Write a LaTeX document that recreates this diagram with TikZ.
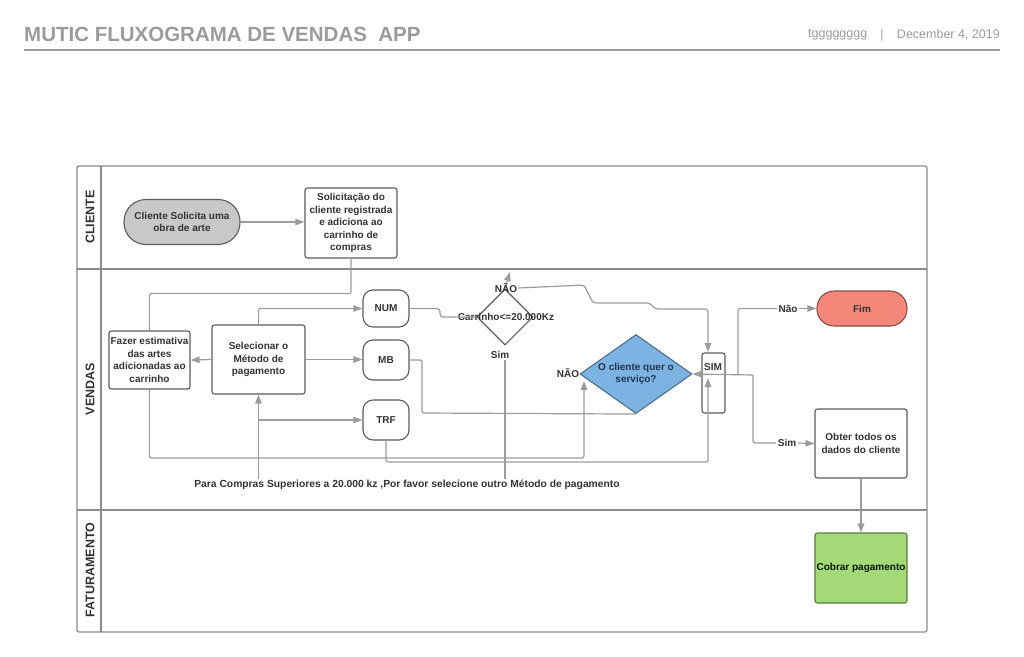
\documentclass[tikz,border=0pt]{standalone}
\usepackage{fontspec}
\setmainfont{Liberation Sans}
\usetikzlibrary{shapes.geometric,arrows.meta}

\definecolor{titlegray}{HTML}{9B9B9B}
\definecolor{poolgray}{HTML}{8A8A8A}
\definecolor{linegray}{HTML}{9C9C9C}
\definecolor{boxline}{HTML}{5C5C5C}
\definecolor{textdark}{HTML}{333333}
\definecolor{startfill}{HTML}{C8C8C8}
\definecolor{fimfill}{HTML}{F4877A}
\definecolor{fimline}{HTML}{8A4E46}
\definecolor{querfill}{HTML}{7DB3E3}
\definecolor{querline}{HTML}{4D6E8E}
\definecolor{quertext}{HTML}{1E3550}
\definecolor{cobrarfill}{HTML}{A3D977}
\definecolor{cobrarline}{HTML}{5E7A4A}

\begin{document}
\begin{tikzpicture}[x=1pt, y=-1pt,
    txt/.style={font=\fontsize{10}{12.5}\selectfont\bfseries, text=textdark, align=center, inner sep=1pt},
    box/.style={txt, draw=boxline, line width=1.1pt, rounded corners=2.5pt, fill=white},
    pill/.style={box, rounded corners=10pt},
    line/.style={draw=linegray, line width=1.2pt, rounded corners=2pt},
    arr/.style={line, -{Triangle[length=9pt,width=6.5pt]}},
    lbl/.style={txt, fill=white, inner sep=1.5pt},
    lane/.style={font=\fontsize{12.5}{14}\selectfont\bfseries, text=textdark, rotate=90},
    head/.style={font=\fontsize{12.5}{14}\selectfont, text=titlegray, inner sep=0pt}]

    \useasboundingbox (0,0) rectangle (1024,656);

    % Title
    \node[anchor=west, font=\fontsize{20.5}{24}\selectfont\bfseries, text=titlegray, inner sep=0pt] (title) at (24,34) {MUTIC FLUXOGRAMA DE VENDAS\ \ APP};
    \node[head, anchor=west] (user) at (808,35) {tgggggggg};
    \node[head] (sep) at (882,35) {|};
    \node[head, anchor=east] (date) at (1000,35) {December 4, 2019};
    \draw[titlegray, line width=1.5pt] (24,50) -- (1000,50);

    % Pool and lanes
    \draw[poolgray, line width=1.2pt, rounded corners=2pt] (77,166) rectangle (927,632);
    \draw[poolgray, line width=1.2pt] (101,166) -- (101,632);
    \draw[poolgray, line width=1.2pt] (77,269) -- (927,269);
    \draw[poolgray, line width=1.2pt] (77,510) -- (927,510);
    \node[lane] (laneC) at (90,217) {CLIENTE};
    \node[lane] (laneV) at (90,389) {VENDAS};
    \node[lane] (laneF) at (90,570) {FATURAMENTO};

    % Cliente lane
    \node[box, fill=startfill, rounded corners=22pt, minimum width=116, minimum height=45] (start) at (182,222) {Cliente Solicita uma\\obra de arte};
    \node[box, minimum width=92, minimum height=70] (reg) at (351,223) {Solicitação do\\cliente registrada\\e adiciona ao\\carrinho de\\compras};

    % Vendas lane
    \node[box, inner sep=0.5pt, minimum width=81, minimum height=58] (est) at (149.5,360) {Fazer estimativa\\das artes\\adicionadas ao\\carrinho};
    \node[box, minimum width=93, minimum height=69] (sel) at (258.5,359.5) {Selecionar o\\Método de\\pagamento};
    \node[pill, minimum width=46, minimum height=37] (num) at (386,308.5) {NUM};
    \node[pill, minimum width=46, minimum height=40] (mb) at (386,360) {MB};
    \node[pill, minimum width=46, minimum height=40] (trf) at (386,420) {TRF};
    \node[draw=boxline, line width=1.1pt, diamond, inner sep=0pt, minimum width=56, minimum height=56] (carr) at (505,317) {};
    \node[txt] (carrtext) at (506,317) {Carrinho<=20.000Kz};
    \node[draw=querline, fill=querfill, line width=1.1pt, diamond, inner sep=0pt, minimum width=112, minimum height=79] (quer) at (636,374) {};
    \node[txt, text=quertext] (quertext) at (quer) {O cliente quer o\\serviço?};
    \node[box, minimum width=23, minimum height=60] (simbox) at (713.5,383) {};
    \node[txt] (simtext) at (713,367) {SIM};
    \node[pill, fill=fimfill, draw=fimline, rounded corners=17pt, minimum width=90, minimum height=35] (fim) at (862,308.5) {Fim};
    \node[box, minimum width=92, minimum height=69] (obter) at (861,443.5) {Obter todos os\\dados do cliente};
    \node[txt, font=\fontsize{10.3}{12.5}\selectfont\bfseries] (note) at (407,485) {Para Compras Superiores a 20.000 kz ,Por favor selecione outro Método de pagamento};

    % Faturamento lane
    \node[box, fill=cobrarfill, draw=cobrarline, text=black!75!green!40!black, minimum width=92, minimum height=70] (cobrar) at (861,568) {Cobrar pagamento};

    % Connectors
    \draw[arr] (start.east) -- (start.east -| reg.west);
    \draw[line] (reg.south) -- ++(0,35) -| (est.north);
    \draw[arr] (sel.west) -- (est.east);
    \draw[arr] (sel.north) |- (num.west);
    \draw[arr] (sel.east) -- (sel.east -| mb.west);
    \draw[arr] (note.north -| sel.south) -- (sel.south);
    \coordinate (selbranch) at (sel.south |- trf.west);
    \draw[arr] (selbranch) -- (trf.west);
    \draw[line, rounded corners=3pt] (num.east) -- (440,308.5) -- (440,317) -- (carr.west);
    \draw[arr] (carr.north) -- (510,272);
    \node[txt] (nao1) at (506,288) {NÃO};
    \draw[arr, rounded corners=3pt] (nao1.east) -- (584,285) -- (593,303) -- (650,303) -- (655,309) -- (708,309) -- (708,352);
    \node[txt] (sim1) at (500,355) {Sim};
    \draw[line] (sim1.south -| carr.south) -- (note.north -| carr.south);
    \draw[line] (mb.east) -- (422,360) -- (422,413) -- (quer.south);
    \coordinate (trfin) at (708,378);
    \draw[arr] (trf.south) -- (386,462) -- (708,462) -- (trfin);
    \coordinate (estin) at (584,381);
    \draw[arr] (est.south) -- (149.5,458) -- (584,458) -- (estin);
    \node[txt] (nao2) at (568,373) {NÃO};

    % Decision outputs
    \coordinate (split) at (753,375);
    \coordinate (fork) at (738,375);
    \draw[arr] (split) -- (quer.east);
    \node[lbl] (nao3) at (788,308.5) {Não};
    \node[lbl] (sim2) at (787,443) {Sim};
    \draw[line] (fork) |- (nao3.west);
    \draw[arr] (nao3.east) -- (fim.west);
    \draw[line] (split) |- (sim2.west);
    \draw[arr] (sim2.east) -- (obter.west);
    \draw[arr] (obter.south) -- (cobrar.north);
\end{tikzpicture}
\end{document}
